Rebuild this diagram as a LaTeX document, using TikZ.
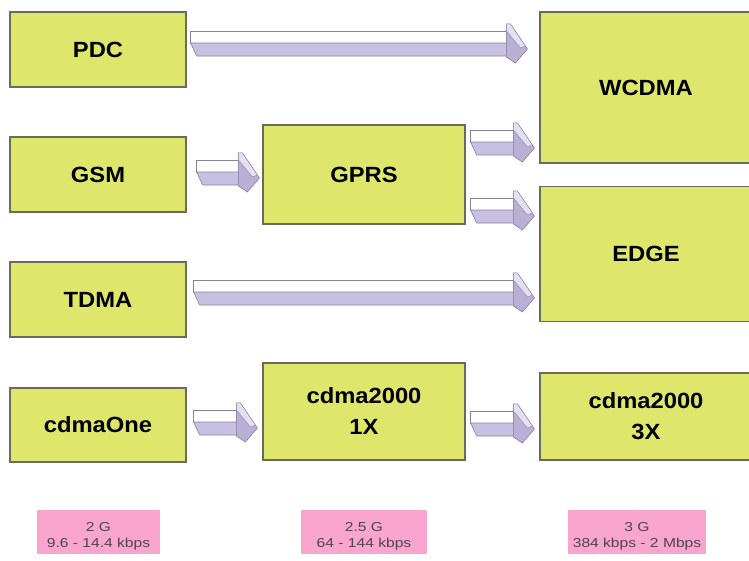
\documentclass[tikz,border=0pt]{standalone}
\usepackage{fontspec}
\setmainfont{Liberation Sans}
\newfontfamily\boxfont[FakeStretch=1.08]{Liberation Sans}
\newfontfamily\pinkfont[FakeStretch=1.2]{Liberation Sans}
\usetikzlibrary{calc}
\definecolor{boxfill}{RGB}{222,230,108}
\definecolor{boxline}{RGB}{105,108,90}
\definecolor{pinkfill}{RGB}{250,165,205}
\definecolor{pinktext}{RGB}{78,68,78}
\definecolor{lavfront}{RGB}{200,192,226}
\definecolor{lavhead}{RGB}{186,176,214}
\definecolor{lavlight}{RGB}{228,224,242}
\definecolor{arrline}{RGB}{135,130,155}
\tikzset{
  gbox/.style={draw=boxline, line width=1.2pt, fill=boxfill, inner sep=0pt,
    align=center, text=black, font=\boxfont\bfseries\fontsize{22}{31}\selectfont},
  pbox/.style={fill=pinkfill, inner sep=0pt},
  ptext/.style={align=center, text=pinktext, inner sep=0pt,
    font=\pinkfont\fontsize{13}{16}\selectfont},
  arrtop/.style={fill=white, draw=arrline, line width=0.6pt, line join=round},
  arrfront/.style={fill=lavfront, draw=arrline, line width=0.6pt, line join=round},
  arrhead/.style={fill=lavhead, draw=arrline, line width=0.6pt, line join=round},
  arrhl/.style={fill=lavlight, draw=arrline, line width=0.4pt, line join=round}
}
% #1 from node, #2 to node, #3 y (px), #4 left gap, #5 right gap
\newcommand\barrow[5]{%
  \path (#1.east |- 0,#3) ++(#4,0) coordinate (bs);
  \path (#2.west |- 0,#3) ++(-#5,0) coordinate (be);
  \filldraw[arrtop] ($(bs)+(0,-12)$) -- ($(be)+(-21,-12)$) -- ($(be)+(-21,0)$) -- (bs) -- cycle;
  \filldraw[arrfront] (bs) -- ($(be)+(-21,0)$) -- ($(be)+(-21,13)$) -- ($(bs)+(6,13)$) -- cycle;
  \filldraw[arrhead] ($(be)+(-21,-19)$) -- ($(be)+(-17,-19)$) -- ($(be)+(0,6)$) -- ($(be)+(-12,20)$) -- ($(be)+(-21,14)$) -- cycle;
  \filldraw[arrhl] ($(be)+(-21,-19)$) -- ($(be)+(-17,-19)$) -- ($(be)+(-2,3)$) -- ($(be)+(-7,5)$) -- ($(be)+(-21,-12)$) -- cycle;
}
\begin{document}
\begin{tikzpicture}[x=1pt,y=-1pt]
\useasboundingbox (0,0) rectangle (749,560);
\fill[white] (0,0) rectangle (749,560);
% column 1
\node[gbox, minimum width=176pt, minimum height=75pt] (pdc) at (98,49.5) {PDC};
\node[gbox, minimum width=176pt, minimum height=75pt] (gsm) at (98,174.5) {GSM};
\node[gbox, minimum width=176pt, minimum height=75pt] (tdma) at (98,299.5) {TDMA};
\node[gbox, minimum width=176pt, minimum height=74pt] (one) at (98,425) {cdmaOne};
% column 2
\node[gbox, minimum width=202pt, minimum height=99pt] (gprs) at (364,174.5) {GPRS};
\node[gbox, minimum width=202pt, minimum height=97pt] (onex) at (364,411.5) {cdma2000\\1X};
% column 3
\node[gbox, minimum width=212pt, minimum height=151pt] (wcdma) at (646,87.5) {WCDMA};
\node[gbox, minimum width=212pt, minimum height=135pt] (edge) at (646,254) {EDGE};
\node[gbox, minimum width=212pt, minimum height=87pt] (threex) at (646,416.5) {cdma2000\\3X};
% arrows
\barrow{pdc}{wcdma}{43}{4}{12}
\barrow{gsm}{gprs}{172}{10}{3}
\barrow{gprs}{wcdma}{142}{5}{5}
\barrow{gprs}{edge}{210}{5}{5}
\barrow{tdma}{edge}{292}{7}{5}
\barrow{one}{onex}{422}{7}{5}
\barrow{onex}{threex}{423}{5}{5}
% generation labels
\node[pbox, minimum width=123pt, minimum height=44pt] (g2) at (98.5,532) {};
\node[pbox, minimum width=126pt, minimum height=44pt] (g25) at (364,532) {};
\node[pbox, minimum width=138pt, minimum height=44pt] (g3) at (637,532) {};
\node[ptext] (g2t) at ($(g2.center)+(0,4)$) {2 G\\9.6 - 14.4 kbps};
\node[ptext] (g25t) at ($(g25.center)+(0,4)$) {2.5 G\\64 - 144 kbps};
\node[ptext] (g3t) at ($(g3.center)+(0,4)$) {3 G\\384 kbps - 2 Mbps};
\end{tikzpicture}
\end{document}
